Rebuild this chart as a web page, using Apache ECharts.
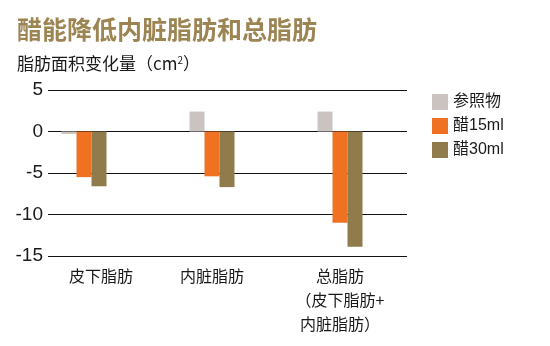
<!DOCTYPE html>
<html>
<head>
<meta charset="utf-8">
<script src="https://cdn.jsdelivr.net/npm/echarts@6/dist/echarts.min.js"></script>
<style>
  html, body { margin: 0; padding: 0; background: #fff; }
  #chart { width: 550px; height: 346px; }
</style>
</head>
<body>
<div id="chart"></div>
<script>
// Change in fat area (cm²) by vinegar dose
const categories = ['皮下脂肪', '内脏脂肪', '总脂肪\n（皮下脂肪+\n内脏脂肪）'];
const seriesNames = ['参照物', '醋15ml', '醋30ml'];
const placebo = [-0.3, 2.4, 2.4];
const vinegar15 = [-5.5, -5.4, -11.0];
const vinegar30 = [-6.6, -6.7, -13.9];
const yTicks = { min: -15, max: 5, interval: 5 };

const colors = ['#cbc3c0', '#ef7223', '#8f7b4c'];
const FONT = '"Liberation Sans", "Noto Sans CJK SC", sans-serif';
const CJK = '"Noto Sans CJK SC", "Noto Sans", sans-serif';

const chart = echarts.init(document.getElementById('chart'));

const gridTop = 90, gridBottom = 90;

chart.setOption({
  animation: false,
  textStyle: { fontFamily: FONT },
  title: [
    {
      text: '醋能降低内脏脂肪和总脂肪',
      left: 12, top: 12,
      textStyle: { fontSize: 25, fontWeight: 'bold', color: '#9c8553', fontFamily: CJK }
    },
    {
      text: '{t|脂肪面积变化量（cm}{s|2}{t|）}',
      left: 12, top: 50,
      textStyle: {
        fontWeight: 'normal',
        rich: {
          t: { fontSize: 17, fontWeight: 'normal', color: '#1a1a1a', fontFamily: CJK },
          s: { fontSize: 10, fontWeight: 'normal', color: '#1a1a1a', fontFamily: CJK, verticalAlign: 'top', padding: [0, 0, 8, 0] }
        }
      }
    }
  ],
  legend: {
    orient: 'vertical',
    left: 427, top: 89,
    itemWidth: 16, itemHeight: 16,
    itemGap: 8,
    icon: 'rect',
    data: seriesNames,
    textStyle: { fontSize: 16, color: '#1a1a1a', fontFamily: FONT }
  },
  grid: [
    // gridline frame with the value labels
    { left: 48, right: 143, top: gridTop, bottom: gridBottom },
    // bar area
    { left: 20, right: 146, top: gridTop, bottom: gridBottom }
  ],
  xAxis: [
    { gridIndex: 0, type: 'value', show: false, min: 0, max: 1 },
    {
      gridIndex: 1, type: 'category', data: categories,
      axisLine: { show: false }, axisTick: { show: false },
      axisLabel: {
        fontSize: 16, color: '#1a1a1a', fontFamily: CJK, lineHeight: 24,
        margin: 8, interval: 0,
        formatter: function (v, i) { return i === 0 ? '{a|' + v + '}' : v; },
        rich: { a: { fontSize: 16, color: '#1a1a1a', fontFamily: CJK, lineHeight: 24, padding: [0, 0, 0, 34] } }
      }
    }
  ],
  yAxis: [
    {
      gridIndex: 0, type: 'value',
      min: yTicks.min, max: yTicks.max, interval: yTicks.interval,
      axisLine: { show: false }, axisTick: { show: false },
      axisLabel: { fontSize: 19, color: '#1a1a1a', fontFamily: FONT, margin: 5 },
      splitLine: { lineStyle: { color: '#111', width: 1.2 } }
    },
    {
      gridIndex: 1, type: 'value', show: false,
      min: yTicks.min, max: yTicks.max, interval: yTicks.interval,
      splitLine: { show: false }
    }
  ],
  series: [placebo, vinegar15, vinegar30].map((d, i) => ({
    name: seriesNames[i],
    type: 'bar',
    xAxisIndex: 1, yAxisIndex: 1,
    data: d,
    barWidth: 15,
    barGap: '0%',
    itemStyle: { color: colors[i] }
  }))
});
</script>
</body>
</html>
